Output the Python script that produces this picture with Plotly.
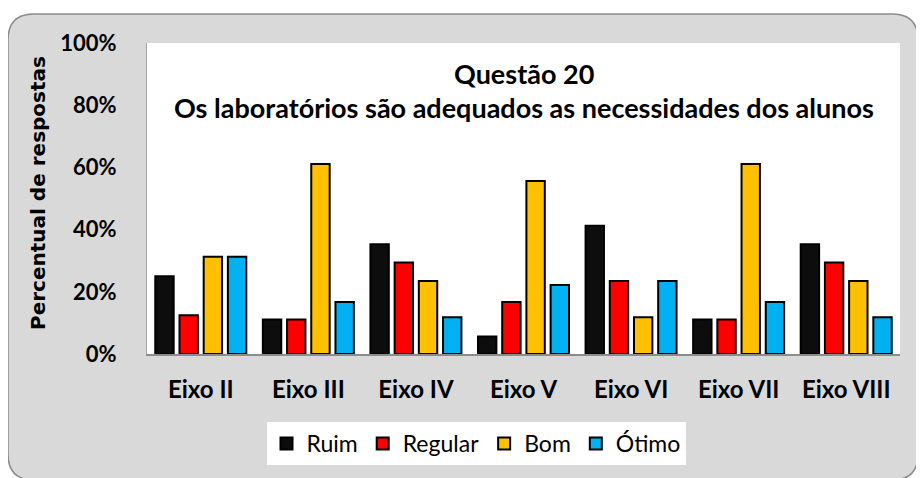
import plotly.graph_objects as go

categories = ["Eixo II", "Eixo III", "Eixo IV", "Eixo V", "Eixo VI", "Eixo VII", "Eixo VIII"]
ruim = [25.0, 11.1, 35.3, 5.6, 41.2, 11.1, 35.3]
regular = [12.5, 11.1, 29.4, 16.7, 23.5, 11.1, 29.4]
bom = [31.25, 61.1, 23.5, 55.6, 11.8, 61.1, 23.5]
otimo = [31.25, 16.7, 11.8, 22.2, 23.5, 16.7, 11.8]
series_names = ["Ruim", "Regular", "Bom", "Ótimo"]
series_colors = ["#0D0D0D", "#FF0000", "#FFC000", "#00B0F0"]
y_ticks = [0, 20, 40, 60, 80, 100]

OFF = 8  # page body margin
W, H = 924, 478
# target plot area in screen pixels: x 147..900, y 43..354
L, T = 147 - OFF, 43 - OFF
R = W - (900 - OFF)
B = H - (354 - OFF)
PW, PH = W - L - R, H - T - B


def px(x):
    return (x - OFF - L) / PW


def py(y):
    return (H - B - (y - OFF)) / PH


fig = go.Figure()
for name, vals, col in zip(series_names, [ruim, regular, bom, otimo], series_colors):
    fig.add_trace(go.Bar(
        x=categories, y=vals, name=name,
        marker=dict(color=col, line=dict(color="#000000", width=2)),
    ))

# rounded outer background
x0, x1, y0, y1, r = 8, 918, 14, 480, 26
path = (
    f"M {px(x0 + r)} {py(y0)} L {px(x1 - r)} {py(y0)} "
    f"Q {px(x1)} {py(y0)} {px(x1)} {py(y0 + r)} "
    f"L {px(x1)} {py(y1 - r)} Q {px(x1)} {py(y1)} {px(x1 - r)} {py(y1)} "
    f"L {px(x0 + r)} {py(y1)} Q {px(x0)} {py(y1)} {px(x0)} {py(y1 - r)} "
    f"L {px(x0)} {py(y0 + r)} Q {px(x0)} {py(y0)} {px(x0 + r)} {py(y0)} Z"
)
shapes = [
    dict(type="path", xref="paper", yref="paper", path=path,
         fillcolor="#D9D9D9", line=dict(color="#8C8C8C", width=1.5), layer="below"),
    dict(type="rect", xref="paper", yref="paper", x0=0, x1=1, y0=0, y1=1,
         fillcolor="#FFFFFF", line=dict(width=0), layer="below"),
]

font_main = "Lato, 'Open Sans', sans-serif"
annotations = [
    dict(text="<b>Questão 20</b>", xref="paper", yref="paper", x=0.5, y=py(73),
         xanchor="center", yanchor="middle", showarrow=False,
         font=dict(family=font_main, size=27, color="#000000")),
    dict(text="<b>Os laboratórios são adequados as necessidades dos alunos</b>",
         xref="paper", yref="paper", x=0.5, y=py(107),
         xanchor="center", yanchor="middle", showarrow=False,
         font=dict(family=font_main, size=27, color="#000000")),
    dict(text="<b>Percentual de respostas</b>", xref="paper", yref="paper",
         x=px(38), y=py(193), xanchor="center", yanchor="middle", textangle=-90,
         showarrow=False, font=dict(family="DejaVu Sans", size=20, color="#000000")),
]

fig.update_layout(
    width=W, height=H,
    margin=dict(l=L, r=R, t=T, b=B),
    paper_bgcolor="#FFFFFF",
    plot_bgcolor="rgba(0,0,0,0)",
    barmode="group", bargap=0.1, bargroupgap=0.24,
    shapes=shapes, annotations=annotations,
    showlegend=True,
    legend=dict(orientation="h", x=px(476), y=py(422), xanchor="center", yanchor="top",
                bgcolor="#FFFFFF", font=dict(family=font_main, size=23, color="#000000"),
                itemsizing="constant", tracegroupgap=0),
    font=dict(family=font_main, color="#000000"),
)
fig.update_xaxes(
    showline=True, linecolor="#8C8C8C", linewidth=2, ticks="", showgrid=False,
    tickfont=dict(family=font_main, size=24, color="#000000"),
    ticklabelstandoff=13, tickprefix="<b>", ticksuffix="</b>",
)
fig.update_yaxes(
    range=[0, 100], tickvals=y_ticks, ticktext=[f"<b>{v}%</b>" for v in y_ticks],
    showline=True, linecolor="#A6A6A6", linewidth=1, ticks="", showgrid=False,
    zeroline=False, tickfont=dict(family=font_main, size=22, color="#000000"),
    ticklabelstandoff=25,
)

fig.write_html("out.html")
